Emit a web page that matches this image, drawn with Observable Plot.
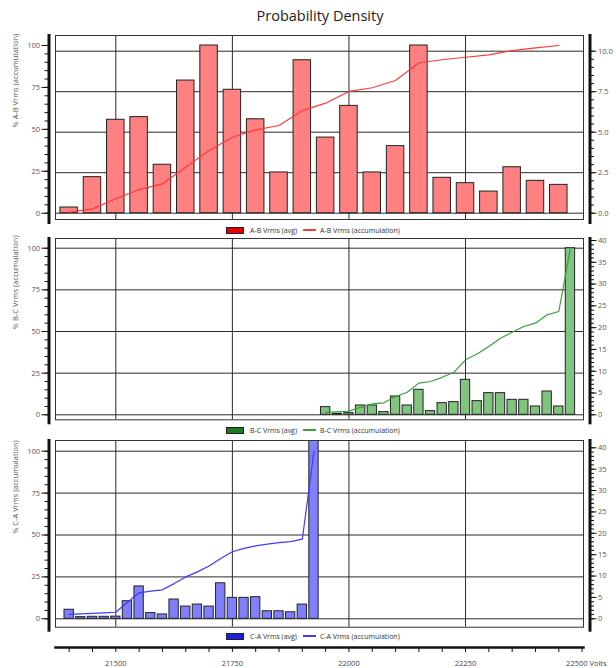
<!DOCTYPE html>
<html><head><meta charset="utf-8">
<script src="https://cdn.jsdelivr.net/npm/d3@7"></script>
<script src="https://cdn.jsdelivr.net/npm/@observablehq/plot@0.6"></script>
<style>
html,body{margin:0;padding:0;background:#fff;}
#root{position:relative;width:616px;height:668px;overflow:hidden;font-family:"Open Sans",sans-serif;}
#root svg{position:absolute;left:0;top:0;background:transparent !important;overflow:visible;max-width:none;}
.title{position:absolute;top:6px;left:12px;width:616px;text-align:center;font-size:14.5px;color:#222;}
.legend{position:absolute;left:226px;height:10px;display:flex;align-items:center;font-size:7px;color:#333;white-space:nowrap;}
.sw{display:inline-block;width:16px;height:5px;border:1px solid #222;margin-right:6px;}
.ln{display:inline-block;width:13px;height:1.3px;margin:0 4px 0 6px;}
</style></head>
<body><div id="root"><div class="title">Probability Density</div></div>
<script>
// ---- data ----
const abBins = [21400,21450,21500,21550,21600,21650,21700,21750,21800,21850,21900,21950,22000,22050,22100,22150,22200,22250,22300,22350,22400,22450];
const abAvg  = [3.4,21.5,55.7,57.3,28.9,79.1,100,73.6,56,24.3,91.2,45.1,64,24.3,40,100,21.1,17.9,12.9,27.4,19.3,16.9];
const abAcc  = [0.6,2.6,8.6,14.1,17.5,27.4,37.4,45.3,49.7,52.3,61.2,65.6,72.6,74.8,79.1,89.7,91.5,93,94.4,97,98.6,100];

const bcBins = [21950,21975,22000,22025,22050,22075,22100,22125,22150,22175,22200,22225,22250,22275,22300,22325,22350,22375,22400,22425,22450,22475];
const bcAvg  = [4.6,0.6,1,5.6,5.6,1.6,11,5.6,15,2.2,7,7.6,21,8.2,13,13,9,9,5,14,5,100];
const bcAcc  = [1.5,1.8,2.2,4.5,6.5,7.2,11,13.5,19,20,22.5,25.5,33,36.5,41,46,49.5,53,55,60,62,100];

const caBins = [21400,21425,21450,21475,21500,21525,21550,21575,21600,21625,21650,21675,21700,21725,21750,21775,21800,21825,21850,21875,21900,21925];
const caAvg  = [5.4,1,1.2,1.2,1.3,10.5,19.3,3.4,2.6,11.5,7.3,8.5,7.3,21.2,12.5,12.5,12.9,4.5,4.5,3.9,8.5,193];
const caAcc  = [2.6,2.9,3.2,3.5,3.9,9.9,15.5,16.5,17.3,21,25,28,31.5,36,40,42,43.5,44.5,45.5,46,47.5,100];

const xGridTicks  = [21500,21750,22000,22250];
const xLabelTicks = [21500,21750,22000,22250];
const xMinorTicks = [21400,21450,21500,21550,21600,21650,21700,21750,21800,21850,21900,21950,22000,22050,22100,22150,22200,22250,22300,22350,22400,22450,22500];
const leftTicks   = [0,25,50,75,100];
const abRightTicks = [0,2.5,5,7.5,10];
const pctRightTicks = [0,5,10,15,20,25,30,35,40];

// ---- layout ----
const W = 616, H = 668;
const frameL = 55, frameR = 583;
const xDom = [21500, 22500], xRng = [115.3, 581.6];
const root = document.getElementById("root");
const base = {width: W, height: H, style: {fontFamily: '"Open Sans", sans-serif', fontSize: "7.5px", color: "#111"}};

const panels = [
  {bins: abBins, avg: abAvg, acc: abAcc, half: 18.75, fill: "#ff8080", line: "#ff3a3a", sw: "#e60000",
   label: "% A-B Vrms (accumulation)", name: "A-B Vrms", top: 35, bottom: 219, lr: [212.7, 45],
   rd: [0, 10], rr: [212.7, 50.7], rt: abRightTicks, rm: 0.5, fmt: d3.format(".1f"), gridRight: true, legendY: 225},
  {bins: bcBins, avg: bcAvg, acc: bcAcc, half: 10, fill: "#80c480", line: "#3d9e3d", sw: "#1e7a1e",
   label: "% B-C Vrms (accumulation)", name: "B-C Vrms", top: 238, bottom: 419.3, lr: [414.3, 247.7],
   rd: [0, 40], rr: [414.3, 240], rt: pctRightTicks, rm: 1, fmt: d => String(d), gridRight: false, legendY: 425},
  {bins: caBins, avg: caAvg, acc: caAcc, half: 10, fill: "#8080ff", line: "#3c3cff", sw: "#1f1fe0",
   label: "% C-A Vrms (accumulation)", name: "C-A Vrms", top: 440, bottom: 626.7, lr: [618.3, 450.7],
   rd: [0, 40], rr: [618.3, 447.3], rt: pctRightTicks, rm: 1, fmt: d => String(d), gridRight: false, legendY: 631}
];

for (const p of panels) {
  const rows = p.bins.map((b, i) => ({bin: b, avg: p.avg[i], acc: p.acc[i]}));
  const m = {marginTop: p.top, marginBottom: H - p.bottom};

  if (p.gridRight) {
    root.appendChild(Plot.plot({...base, ...m, marginLeft: frameL, marginRight: W - frameR,
      x: {axis: null}, y: {domain: p.rd, range: p.rr, axis: null},
      marks: [Plot.gridY(p.rt, {stroke: "#2b2b2b", strokeOpacity: 1})]}));
  }

  root.appendChild(Plot.plot({...base, ...m, marginLeft: frameL, marginRight: W - frameR,
    x: {domain: xDom, range: xRng, axis: null},
    y: {domain: [0, 100], range: p.lr, axis: null},
    marks: [
      p.gridRight ? null : Plot.gridY(leftTicks, {stroke: "#2b2b2b", strokeOpacity: 1}),
      Plot.gridX(xGridTicks, {stroke: "#2b2b2b", strokeOpacity: 1}),
      Plot.rectY(rows, {x1: d => d.bin - p.half, x2: d => d.bin + p.half, y1: 0, y2: "avg",
        fill: p.fill, stroke: "#222", strokeWidth: 1, clip: true}),
      Plot.line(rows, {x: "bin", y: "acc", stroke: p.line, strokeWidth: 1.2, clip: true}),
      Plot.frame({stroke: "#333"})
    ].filter(Boolean)}));

  root.appendChild(Plot.plot({...base, ...m, marginLeft: 48.5, marginRight: W - frameR,
    x: {axis: null}, y: {domain: [0, 100], range: p.lr, axis: null},
    marks: [
      Plot.frame({anchor: "left", stroke: "#111", strokeWidth: 3, insetBottom: -3}),
      Plot.axisY({anchor: "left", ticks: leftTicks, tickSize: 7, tickPadding: 2, tickFormat: d => String(d), stroke: "#111", fill: "#555"}),
      Plot.axisY({anchor: "left", interval: 5, tickSize: 4, tickFormat: () => "", stroke: "#111"}),
      Plot.text([p.label], {frameAnchor: "left", dx: -33.5, rotate: -90, fill: "#555", fontSize: 7.5})
    ]}));

  root.appendChild(Plot.plot({...base, ...m, marginLeft: frameL, marginRight: W - 589.5,
    x: {axis: null}, y: {domain: p.rd, range: p.rr, axis: null},
    marks: [
      Plot.frame({anchor: "right", stroke: "#111", strokeWidth: 3, insetBottom: -3}),
      Plot.axisY({anchor: "right", ticks: p.rt, tickSize: 6, tickPadding: 2, tickFormat: p.fmt, stroke: "#111", fill: "#555"}),
      Plot.axisY({anchor: "right", interval: p.rm, tickSize: 3.5, tickFormat: () => "", stroke: "#111"})
    ]}));

  const lg = document.createElement("div");
  lg.className = "legend";
  lg.style.top = p.legendY + "px";
  lg.innerHTML = `<span class="sw" style="background:${p.sw}"></span>${p.name} (avg)<span class="ln" style="background:${p.line}"></span>${p.name} (accumulation)`;
  root.appendChild(lg);
}

root.appendChild(Plot.plot({...base, marginTop: 600, marginBottom: H - 647, marginLeft: frameL, marginRight: W - frameR,
  x: {domain: xDom, range: xRng, axis: null},
  marks: [
    Plot.frame({anchor: "bottom", stroke: "#111", strokeWidth: 2.5}),
    Plot.axisX({anchor: "bottom", ticks: xMinorTicks, tickSize: 5, tickFormat: () => "", stroke: "#111"}),
    Plot.text(xLabelTicks, {x: d => d, text: d => String(d), frameAnchor: "bottom", dy: 18, fill: "#444", fontSize: 7.5}),
    Plot.text([22500], {x: d => d, frameAnchor: "bottom", dy: 18, dx: -16, textAnchor: "start", text: d => d + " Volts", fill: "#444", fontSize: 7.5})
  ]}));
</script>
</body></html>
